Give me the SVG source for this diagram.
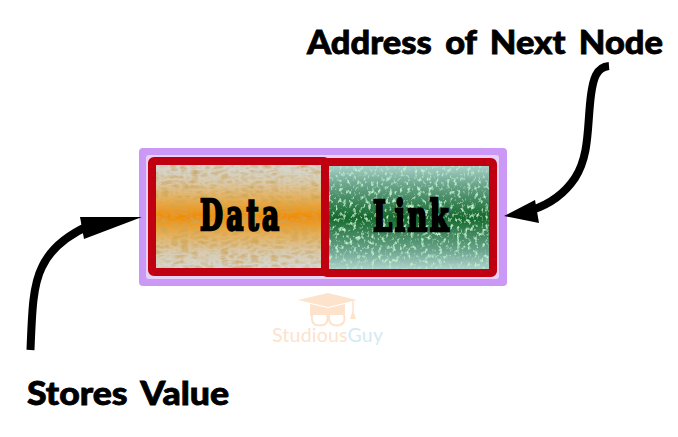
<svg xmlns="http://www.w3.org/2000/svg" width="678" height="437" viewBox="0 0 678 437">
<style>
.lbl{font-family:"Lato","Open Sans","Liberation Sans",sans-serif;font-weight:900;font-size:33px;fill:#000;stroke:#000;stroke-width:.8px;word-spacing:5px}
.cell{font-family:"DejaVu Serif Condensed","Liberation Serif",serif;font-weight:700;font-size:42px;fill:#000;stroke:#000;stroke-width:2.4px}
.box{fill:none;stroke:#c00010;stroke-width:8px;stroke-linejoin:round}
.arrow{fill:none;stroke:#000;stroke-width:8px}
.wm{font-family:"Lato","Liberation Sans",sans-serif;font-size:19.5px}
</style>
<defs>
<linearGradient id="gd" x1="0" y1="0" x2="0" y2="1">
<stop offset="0" stop-color="#d3dcdb"/><stop offset=".18" stop-color="#d8cdb4"/><stop offset=".34" stop-color="#e6b05c"/><stop offset=".5" stop-color="#f08c04"/><stop offset=".66" stop-color="#e6b05c"/><stop offset=".82" stop-color="#d8cbb0"/><stop offset="1" stop-color="#d3dcdb"/>
</linearGradient>
<linearGradient id="gl" x1="0" y1="0" x2="0" y2="1">
<stop offset="0" stop-color="#b5d9d4"/><stop offset=".2" stop-color="#6da58f"/><stop offset=".5" stop-color="#136a2c"/><stop offset=".8" stop-color="#6da58f"/><stop offset="1" stop-color="#bcdcd9"/>
</linearGradient>
<filter id="td" x="0" y="0" width="1" height="1">
<feTurbulence type="turbulence" baseFrequency=".1 .2" numOctaves="2" seed="4"/>
<feColorMatrix values="0 0 0 0 .62  0 0 0 0 .38  0 0 0 0 .08  1.5 0 0 0 -.15"/>
<feComposite in2="SourceGraphic" operator="in" result="t"/>
<feMerge><feMergeNode in="SourceGraphic"/><feMergeNode in="t"/></feMerge>
</filter>
<filter id="tl" x="0" y="0" width="1" height="1">
<feTurbulence type="fractalNoise" baseFrequency=".28 .22" numOctaves="3" seed="9"/>
<feColorMatrix values="0 0 0 0 .5  0 0 0 0 .88  0 0 0 0 .6  4 0 0 0 -2.15"/>
<feComposite in2="SourceGraphic" operator="in" result="t"/>
<feMerge><feMergeNode in="SourceGraphic"/><feMergeNode in="t"/></feMerge>
</filter>
</defs>
<rect width="678" height="437" fill="#fff"/>
<g id="list-node">
<rect x="139" y="148" width="368" height="138" rx="4" fill="#cb99f5"/>
<rect x="146" y="155" width="353" height="124" rx="3" fill="#e6d2f8"/>
</g>
<g id="data">
<rect x="152" y="161" width="174" height="111" fill="url(#gd)" filter="url(#td)"/>
<rect class="box" x="152" y="161" width="174" height="111" rx="2"/>
<text class="cell" transform="translate(200 230) scale(.7 1)" textLength="113" lengthAdjust="spacing">Data</text>
</g>
<g id="link">
<rect x="325" y="162" width="168" height="111" fill="url(#gl)" filter="url(#tl)"/>
<rect class="box" x="325" y="162" width="168" height="111" rx="2"/>
<text class="cell" transform="translate(373 231) scale(.72 1)" textLength="105" lengthAdjust="spacing">Link</text>
</g>
<g id="watermark">
<path d="M298 300L328 293L357 300L328 307Z" fill="#fde3cc"/>
<path d="M310 304V316H345V304L328 308Z" fill="#fde3cc"/>
<path d="M353 301V312" stroke="#fde3cc" stroke-width="1.5" fill="none"/>
<path d="M350 319L353 310L356 319Z" fill="#fde3cc"/>
<path d="M312 315C311 326 317 326 323 325C328 324 328 318 327 315M329 315C328 326 335 326 340 325C345 323 345 318 344 315" fill="#fff" stroke="#fde3cc" stroke-width="2"/>
<text class="wm" x="272" y="342" textLength="111"><tspan fill="#fbe3ce">Studious</tspan><tspan fill="#d5e9f5">Guy</tspan></text>
</g>
<g id="connectors">
<path class="arrow" d="M609 66C596 67 593 80 591 95C587 125 590 155 575 178C565 193 550 204 532 210"/>
<path d="M504 216L535 200L539 223Z" fill="#000"/>
<path class="arrow" d="M30.500 350C32 310 33 285 42 267C50 250 64 237 88 226"/>
<path d="M142 217L80 217L84 239Z" fill="#000"/>
</g>
<g id="labels">
<text class="lbl" x="307" y="54" textLength="356" lengthAdjust="spacingAndGlyphs">Address of Next Node</text>
<text class="lbl" x="27" y="405" textLength="202" lengthAdjust="spacingAndGlyphs">Stores Value</text>
</g>
</svg>
